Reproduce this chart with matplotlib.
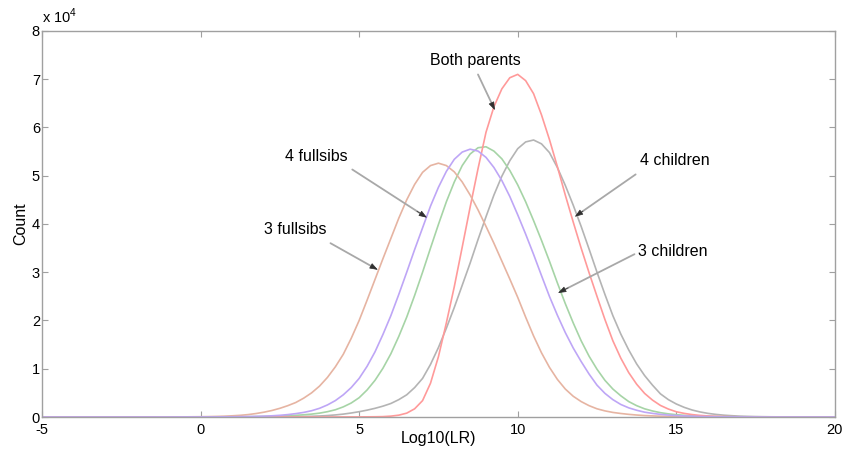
import numpy as np
import matplotlib
matplotlib.use("Agg")
import matplotlib.pyplot as plt
from matplotlib.ticker import FuncFormatter

plt.rcParams['font.family'] = ['Liberation Sans', 'DejaVu Sans']
plt.rcParams['mathtext.fontset'] = 'custom'
plt.rcParams['mathtext.rm'] = 'Liberation Sans'
plt.rcParams['axes.unicode_minus'] = False

# Log10(LR) grid, step 0.25 from -5 to 20
log_lr = np.arange(-5, 20.1, 0.25)

# counts in thousands (8 values per row = 2 units of x)
fullsibs3_k = [0, 0, 0, 0, 0, 0, 0, 0,
               0, 0, 0, 0, 0, 0.005, 0.01, 0.012,
               0.015, 0.02, 0.03, 0.045, 0.06, 0.085, 0.12, 0.17,
               0.25, 0.35, 0.5, 0.72, 1.0, 1.35, 1.8, 2.35,
               3.0, 3.9, 5.0, 6.4, 8.2, 10.4, 13.0, 16.3,
               20.0, 24.2, 28.5, 32.8, 37.0, 41.2, 45.0, 48.2,
               50.7, 52.1, 52.6, 52.1, 50.8, 48.7, 46.0, 42.9,
               39.5, 36.0, 32.3, 28.6, 24.8, 20.7, 16.8, 13.3,
               10.3, 7.8, 5.8, 4.3, 3.2, 2.35, 1.7, 1.27,
               0.95, 0.73, 0.55, 0.41, 0.3, 0.23, 0.17, 0.12,
               0.09, 0.07, 0.05, 0.03, 0.02, 0.015, 0.01, 0.005,
               0, 0, 0, 0, 0, 0, 0, 0,
               0, 0, 0, 0, 0]
fullsibs4_k = [0, 0, 0, 0, 0, 0, 0, 0,
               0, 0, 0, 0, 0, 0, 0, 0,
               0, 0.005, 0.01, 0.012, 0.015, 0.02, 0.03, 0.04,
               0.05, 0.07, 0.09, 0.13, 0.18, 0.25, 0.35, 0.5,
               0.7, 0.95, 1.3, 1.8, 2.5, 3.4, 4.6, 6.1,
               8.0, 10.5, 13.5, 17.1, 21.0, 25.4, 30.0, 34.7,
               39.2, 43.7, 47.6, 50.9, 53.4, 54.9, 55.5, 55.1,
               53.8, 51.7, 49.0, 45.7, 41.9, 37.9, 33.7, 29.3,
               25.0, 21.1, 17.5, 14.3, 11.5, 8.9, 6.6, 4.9,
               3.6, 2.6, 1.9, 1.4, 1.0, 0.75, 0.55, 0.4,
               0.3, 0.22, 0.16, 0.11, 0.08, 0.06, 0.04, 0.03,
               0.02, 0.015, 0.01, 0.005, 0, 0, 0, 0,
               0, 0, 0, 0, 0]
children3_k = [0, 0, 0, 0, 0, 0, 0, 0,
               0, 0, 0, 0, 0, 0, 0, 0,
               0, 0, 0, 0, 0.01, 0.015, 0.02, 0.03,
               0.04, 0.055, 0.07, 0.09, 0.12, 0.16, 0.2, 0.27,
               0.35, 0.46, 0.6, 0.8, 1.1, 1.5, 2.1, 2.9,
               4.0, 5.6, 7.6, 10.1, 13.1, 16.7, 20.7, 25.2,
               30.0, 35.0, 39.9, 44.6, 48.7, 52.1, 54.5, 55.8,
               56.0, 55.1, 53.5, 51.1, 48.1, 44.6, 40.7, 36.6,
               32.3, 27.8, 23.5, 19.5, 15.8, 12.6, 9.9, 7.6,
               5.8, 4.4, 3.2, 2.35, 1.7, 1.25, 0.9, 0.65,
               0.48, 0.35, 0.25, 0.18, 0.13, 0.09, 0.06, 0.045,
               0.03, 0.02, 0.01, 0.005, 0, 0, 0, 0,
               0, 0, 0, 0, 0]
parents_k = [0, 0, 0, 0, 0, 0, 0, 0,
             0, 0, 0, 0, 0, 0, 0, 0,
             0, 0, 0, 0, 0, 0, 0, 0,
             0, 0, 0, 0, 0, 0, 0, 0,
             0, 0, 0, 0.005, 0.01, 0.012, 0.015, 0.02,
             0.025, 0.035, 0.05, 0.08, 0.18, 0.38, 0.8, 1.7,
             3.4, 7.0, 12.5, 19.5, 27.0, 35.2, 43.5, 51.5,
             59.0, 64.3, 68.0, 70.3, 71.0, 69.7, 67.0, 62.6,
             57.5, 51.9, 46.0, 40.4, 35.0, 29.9, 25.0, 20.2,
             15.8, 12.2, 9.2, 6.8, 4.9, 3.5, 2.4, 1.65,
             1.09, 0.75, 0.5, 0.33, 0.22, 0.15, 0.1, 0.06,
             0.04, 0.03, 0.02, 0.01, 0, 0, 0, 0,
             0, 0, 0, 0, 0]
children4_k = [0, 0, 0, 0, 0, 0, 0, 0,
               0, 0, 0, 0, 0, 0, 0, 0,
               0, 0, 0, 0, 0, 0, 0, 0,
               0, 0, 0.01, 0.015, 0.02, 0.03, 0.04, 0.06,
               0.08, 0.11, 0.15, 0.21, 0.3, 0.43, 0.6, 0.83,
               1.1, 1.42, 1.8, 2.25, 2.8, 3.6, 4.6, 6.1,
               8.0, 10.9, 14.4, 18.4, 22.7, 27.3, 31.9, 36.8,
               41.5, 46.0, 49.9, 53.1, 55.6, 57.0, 57.4, 56.6,
               54.8, 51.7, 48.0, 43.9, 39.5, 34.8, 30.0, 25.4,
               21.0, 17.2, 13.9, 11.0, 8.6, 6.6, 4.8, 3.6,
               2.7, 2.0, 1.45, 1.05, 0.75, 0.54, 0.38, 0.27,
               0.18, 0.13, 0.09, 0.06, 0.04, 0.03, 0.02, 0.015,
               0.01, 0.005, 0, 0, 0]

fig = plt.figure(figsize=(8.45, 4.55), dpi=100)
ax = fig.add_axes([0.0497, 0.0835, 0.9383, 0.8485])

ax.plot(log_lr, np.array(children4_k) * 1000, color='#b4b4b4', lw=1.2)
ax.plot(log_lr, np.array(children3_k) * 1000, color='#a6d4a6', lw=1.2)
ax.plot(log_lr, np.array(parents_k) * 1000, color='#ff9a9a', lw=1.2)
ax.plot(log_lr, np.array(fullsibs3_k) * 1000, color='#e6b4a2', lw=1.2)
ax.plot(log_lr, np.array(fullsibs4_k) * 1000, color='#bea6f6', lw=1.2)

ax.set_xlim(-5, 20)
ax.set_ylim(0, 80000)
ax.set_xticks(range(-5, 21, 5))
ax.set_yticks(range(0, 80001, 10000))
ax.yaxis.set_major_formatter(FuncFormatter(lambda v, p: '%d' % round(v / 10000)))
ax.tick_params(direction='in', length=4, color='#a0a0a0', labelsize=10.5,
               top=True, right=True)
ax.tick_params(axis='x', pad=4.2)
ax.tick_params(axis='y', pad=1.5)
for s in ax.spines.values():
    s.set_color('#a0a0a0')
    s.set_linewidth(1.0)

ax.set_xlabel('Log10(LR)', fontsize=11.5, va='center')
ax.xaxis.set_label_coords(0.5, -0.056)
ax.set_ylabel('Count', fontsize=11.5, va='center')
ax.yaxis.set_label_coords(-0.027, 0.5)
ax.text(0.0, 1.012, 'x 10$^{4}$', transform=ax.transAxes, fontsize=10.5,
        ha='left', va='bottom')

# annotations: label, text position, arrow start, arrow tip
notes = [
    ('Both parents', (8.68, 73800), (8.71, 71500), (9.28, 63600)),
    ('4 fullsibs', (3.64, 53900), (4.71, 51600), (7.14, 41300)),
    ('3 fullsibs', (2.98, 38800), (4.02, 36300), (5.59, 30500)),
    ('4 children', (14.96, 53100), (13.79, 50600), (11.80, 41500)),
    ('3 children', (14.89, 34200), (13.76, 34000), (11.27, 25700)),
]
for label, txt, start, tip in notes:
    ax.text(txt[0], txt[1], label, fontsize=11.5, ha='center', va='center')
    ax.annotate('', xy=tip, xytext=start,
                arrowprops=dict(arrowstyle='-', color='#a8a8a8', lw=1.3))
    back = (tip[0] + 0.13 * (start[0] - tip[0]), tip[1] + 0.13 * (start[1] - tip[1]))
    ax.annotate('', xy=tip, xytext=back,
                arrowprops=dict(arrowstyle='-|>,head_length=0.5,head_width=0.18',
                                color='#303030', lw=0.5, shrinkA=0, shrinkB=0))

fig.savefig('out.png', dpi=100)
